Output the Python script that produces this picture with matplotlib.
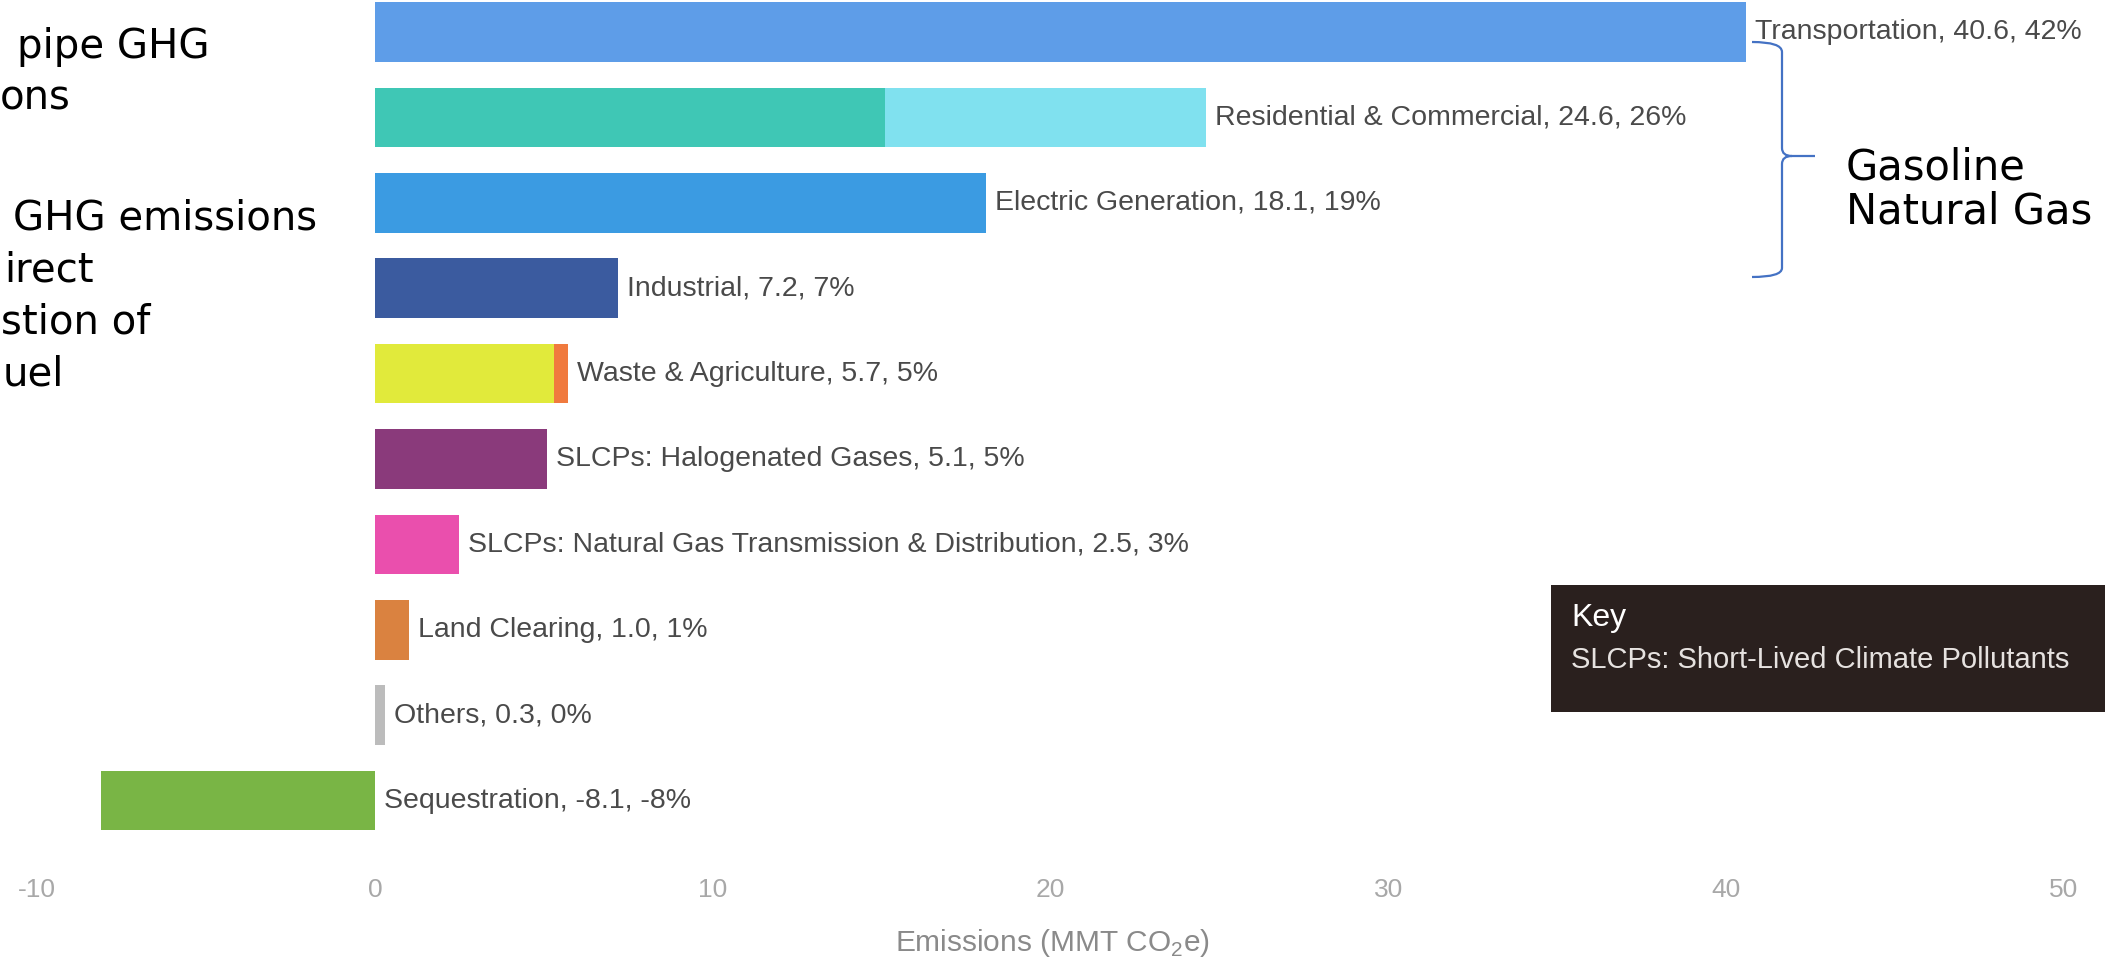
import numpy as np
import matplotlib
matplotlib.use('Agg')
import matplotlib.pyplot as plt
from matplotlib.path import Path
from matplotlib.patches import PathPatch, Rectangle

plt.rcParams['axes.unicode_minus'] = False

# sector data (MMT CO2e), top to bottom
sectors = ['Transportation', 'Residential & Commercial', 'Electric Generation',
           'Industrial', 'Waste & Agriculture', 'SLCPs: Halogenated Gases',
           'SLCPs: Natural Gas Transmission & Distribution', 'Land Clearing',
           'Others', 'Sequestration']
totals = [40.6, 24.6, 18.1, 7.2, 5.7, 5.1, 2.5, 1.0, 0.3, -8.1]
shares = [42, 26, 19, 7, 5, 5, 3, 1, 0, -8]
# second segment at the end of a bar (commercial part, agriculture part)
extra = [0, 9.5, 0, 0, 0.4, 0, 0, 0, 0, 0]

colors = ['#5e9de8', '#3fc7b5', '#3b9be2', '#3b5b9f', '#e1ea3b',
          '#8a3a7b', '#ea4fad', '#da8240', '#bcbcbc', '#79b545']
extra_colors = ['none', '#80e1ef', 'none', 'none', '#f07a3e',
                'none', 'none', 'none', 'none', 'none']

ticks = [-10, 0, 10, 20, 30, 40, 50]

left_notes = [('pipe GHG', 17, 58), ('ons', 0, 110), ('GHG emissions', 13, 230),
              ('irect', 4, 282), ('stion of', 1, 334), ('uel', 3, 386)]
right_notes = [('Gasoline', 1846, 180), ('Natural Gas', 1846, 224)]

chart_font = 'Liberation Sans'
W, H = 2105, 957
fig = plt.figure(figsize=(W / 100, H / 100), dpi=100)

# main chart, spans the whole width; bars centred 85.4 px apart
ax = fig.add_axes([0, 1 - 860 / H, 1, 860 / H])
y = np.arange(len(sectors))
totals_a = np.array(totals)
extra_a = np.array(extra)
base = totals_a - extra_a
ax.barh(y, base, height=0.7, color=colors)
for yi, b, e, c in zip(y, base, extra_a, extra_colors):
    if e > 0:
        ax.barh(yi, e, left=b, height=0.7, color=c)

for yi, name, v, p in zip(y, sectors, totals, shares):
    ax.annotate(f'{name}, {v:.1f}, {p}%', xy=(max(v, 0), yi), xytext=(9, 0),
                textcoords='offset pixels', va='center', ha='left',
                fontsize=20.5, family=chart_font, color='#4a4a4a')

ax.set_xlim(-375 / 33.78, (W - 375) / 33.78)
ax.set_ylim((860 - 32) / 85.4, -32 / 85.4)
ax.set_xticks(ticks)
ax.set_xticklabels([str(t) for t in ticks], family=chart_font,
                   fontsize=19, color='#a8a8a8')
ax.tick_params(axis='x', length=0, pad=13)
ax.set_yticks([])
for s in ax.spines.values():
    s.set_visible(False)
ax.set_xlabel('Emissions (MMT CO$_{\\mathregular{2}}$e)', family=chart_font,
              fontsize=21.5, color='#8a8a8a')
ax.xaxis.set_label_coords(0.5, -0.078)

# overlay in pixel coords for the notes, bracket and key box
ov = fig.add_axes([0, 0, 1, 1])
ov.set_xlim(0, W)
ov.set_ylim(H, 0)
ov.axis('off')
ov.patch.set_alpha(0)

for txt, x, yb in left_notes:
    ov.text(x, yb, txt, fontsize=29, family='DejaVu Sans', color='black', va='baseline')
for txt, x, yb in right_notes:
    ov.text(x, yb, txt, fontsize=30, family='DejaVu Sans', color='black', va='baseline')

verts = [(1752, 42), (1782, 42), (1782, 52), (1782, 148),
         (1782, 156), (1792, 156), (1815, 156),
         (1792, 156), (1782, 156), (1782, 164), (1782, 268),
         (1782, 277), (1752, 277)]
codes = [Path.MOVETO, Path.CURVE3, Path.CURVE3, Path.LINETO,
         Path.CURVE3, Path.CURVE3, Path.LINETO,
         Path.MOVETO, Path.CURVE3, Path.CURVE3, Path.LINETO,
         Path.CURVE3, Path.CURVE3]
ov.add_patch(PathPatch(Path(verts, codes), fill=False, edgecolor='#4472c4', lw=1.6))

ov.add_patch(Rectangle((1551, 585), 600, 127, facecolor='#2a201e', edgecolor='none'))
ov.text(1571, 618, 'Key', fontsize=23, family=chart_font, color='white', va='center')
ov.text(1571, 660, 'SLCPs: Short-Lived Climate Pollutants', fontsize=21,
        family=chart_font, color='#e6e2e0', va='center')

fig.savefig('out.png', dpi=100)
